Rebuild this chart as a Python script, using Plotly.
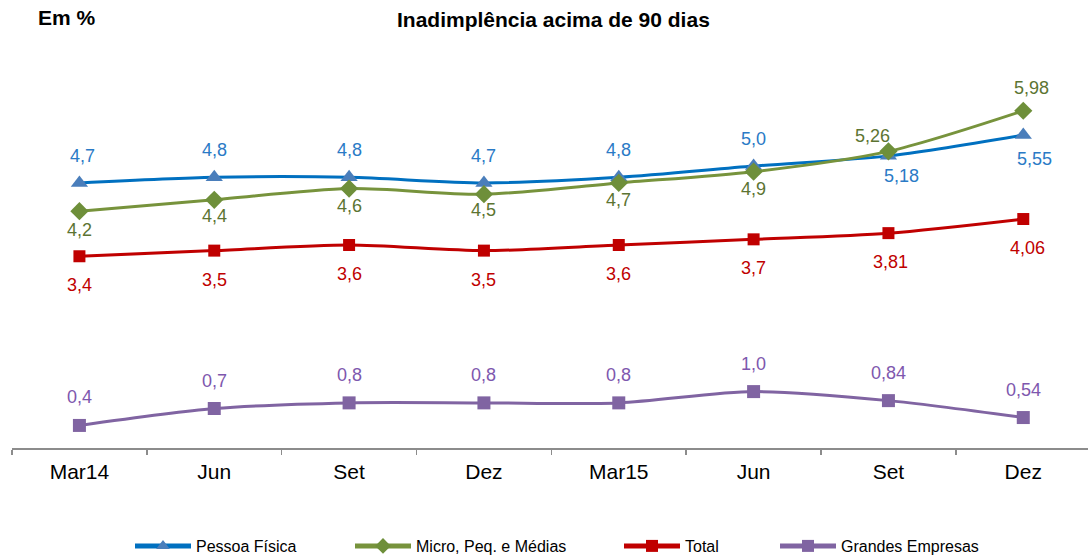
import plotly.graph_objects as go

categories = ["Mar14", "Jun", "Set", "Dez", "Mar15", "Jun ", "Set ", "Dez "]
tick_labels = ["Mar14", "Jun", "Set", "Dez", "Mar15", "Jun", "Set", "Dez"]

pessoa_fisica = [4.7, 4.8, 4.8, 4.7, 4.8, 5.0, 5.18, 5.55]
pessoa_fisica_labels = ["4,7", "4,8", "4,8", "4,7", "4,8", "5,0", "5,18", "5,55"]

micro_pme = [4.2, 4.4, 4.6, 4.5, 4.7, 4.9, 5.26, 5.98]
micro_pme_labels = ["4,2", "4,4", "4,6", "4,5", "4,7", "4,9", "5,26", "5,98"]

total = [3.4, 3.5, 3.6, 3.5, 3.6, 3.7, 3.81, 4.06]
total_labels = ["3,4", "3,5", "3,6", "3,5", "3,6", "3,7", "3,81", "4,06"]

grandes = [0.4, 0.7, 0.8, 0.8, 0.8, 1.0, 0.84, 0.54]
grandes_labels = ["0,4", "0,7", "0,8", "0,8", "0,8", "1,0", "0,84", "0,54"]

FONT = "Liberation Sans, Arial, sans-serif"
W, H = 1088, 558
ML, MR, MT, MB = 12, 0, 60, 110

series = [
    dict(name="Pessoa Física", y=pessoa_fisica, labels=pessoa_fisica_labels,
         line="#0070C0", marker="#4A7EBB", text="#2A7AC6", symbol="triangle-up", size=15,
         yshift=[27, 27, 27, 27, 27, 27, -20, -24], xshift=[3, 0, 0, 0, 0, 0, 13, 11],
         legend="legend", lx=130),
    dict(name="Micro, Peq. e Médias", y=micro_pme, labels=micro_pme_labels,
         line="#77933C", marker="#6E8F3A", text="#5C7432", symbol="diamond", size=14,
         yshift=[-19, -16, -17, -16, -17, -17, 15, 23], xshift=[0, 0, 0, 0, 0, 0, -16, 8],
         legend="legend2", lx=350),
    dict(name="Total", y=total, labels=total_labels,
         line="#C00000", marker="#C00000", text="#C00000", symbol="square", size=12,
         yshift=[-29] * 8, xshift=[0, 0, 0, 0, 0, 0, 2, 4],
         legend="legend3", lx=619),
    dict(name="Grandes Empresas", y=grandes, labels=grandes_labels,
         line="#8064A2", marker="#8064A2", text="#7E57AE", symbol="square", size=13,
         yshift=[28] * 8, xshift=[0] * 8,
         legend="legend4", lx=775),
]

fig = go.Figure()
annotations = []
for s in series:
    fig.add_trace(go.Scatter(
        x=categories, y=s["y"], name=s["name"], mode="lines+markers",
        line=dict(color=s["line"], width=3, shape="spline", smoothing=0.8),
        marker=dict(symbol=s["symbol"], size=s["size"], color=s["marker"]),
        legend=s["legend"], hoverinfo="skip",
    ))
    for i, (c, v, t) in enumerate(zip(categories, s["y"], s["labels"])):
        annotations.append(dict(
            x=c, y=v, xref="x", yref="y", text=t, showarrow=False,
            xshift=s["xshift"][i], yshift=s["yshift"][i],
            font=dict(family=FONT, size=18, color=s["text"]),
        ))

plot_w = W - ML - MR
plot_h = H - MT - MB


def px_to_paper(xp, yp):
    return (xp - ML) / plot_w, (H - MB - yp) / plot_h


ex, ey = px_to_paper(36, 18)
annotations.append(dict(
    x=ex, y=ey, xref="paper", yref="paper", text="<b>Em %</b>",
    showarrow=False, xanchor="left", yanchor="middle",
    font=dict(family=FONT, size=21, color="#000000"),
))
tx, ty = px_to_paper(553, 20)
annotations.append(dict(
    x=tx, y=ty, xref="paper", yref="paper", text="<b>Inadimplência acima de 90 dias</b>",
    showarrow=False, xanchor="center", yanchor="middle",
    font=dict(family=FONT, size=21, color="#000000"),
))

legend_common = dict(
    orientation="h", xref="container", yref="container", xanchor="left",
    yanchor="middle", y=12 / H, bgcolor="rgba(0,0,0,0)", borderwidth=0,
    font=dict(family=FONT, size=16, color="#000000"), itemwidth=56,
    itemsizing="constant",
)
legends = {}
for s in series:
    legends[s["legend"]] = dict(legend_common, x=s["lx"] / W)

fig.update_layout(
    width=W, height=H,
    margin=dict(l=ML, r=MR, t=MT, b=MB, pad=0, autoexpand=False),
    paper_bgcolor="white", plot_bgcolor="white",
    xaxis=dict(
        type="category", range=[-0.5, 7.48], tickmode="array",
        tickvals=categories, ticktext=tick_labels, tickson="boundaries",
        ticks="outside", ticklen=5, tickcolor="#8C8C8C", tickwidth=1.5,
        showline=True, linecolor="#8C8C8C", linewidth=1.5, showgrid=False,
        tickfont=dict(family=FONT, size=21, color="#000000"), zeroline=False,
        automargin=False, ticklabelstandoff=4,
    ),
    yaxis=dict(range=[0, 6.88], visible=False, showgrid=False, zeroline=False,
               automargin=False),
    annotations=annotations,
    showlegend=True,
    **legends,
)

fig.write_html("out.html", post_script="document.body.style.margin='0';",
               config={"displayModeBar": False, "staticPlot": True})
